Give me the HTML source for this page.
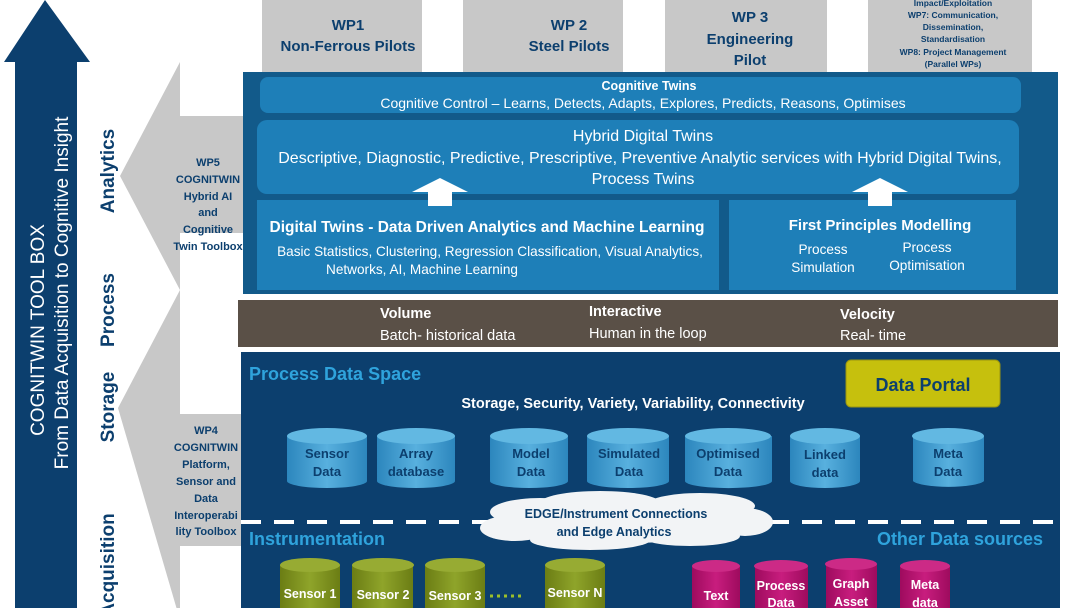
<!DOCTYPE html>
<html><head><meta charset="utf-8"><style>
html,body{margin:0;padding:0;background:#fff;width:1080px;height:608px;overflow:hidden}
svg{display:block;font-family:"Liberation Sans",sans-serif}
</style></head><body>
<svg width="1080" height="608" viewBox="0 0 1080 608" xmlns="http://www.w3.org/2000/svg">
<defs>
<linearGradient id="cb" x1="0" x2="1"><stop offset="0" stop-color="#2c86bd"/><stop offset="0.5" stop-color="#58b0de"/><stop offset="1" stop-color="#2c86bd"/></linearGradient>
<linearGradient id="co" x1="0" x2="1"><stop offset="0" stop-color="#6b7d14"/><stop offset="0.5" stop-color="#8fa42a"/><stop offset="1" stop-color="#6b7d14"/></linearGradient>
<linearGradient id="cm" x1="0" x2="1"><stop offset="0" stop-color="#9e0b5e"/><stop offset="0.5" stop-color="#c81d7e"/><stop offset="1" stop-color="#9e0b5e"/></linearGradient>
</defs>
<polygon points="45,0 90,62 77,62 77,608 15,608 15,62 4,62" fill="#0c3f6e"/>
<text transform="translate(44,330) rotate(-90)" text-anchor="middle" fill="#fff" font-size="19">COGNITWIN TOOL BOX</text>
<text transform="translate(68,293) rotate(-90)" text-anchor="middle" fill="#fff" font-size="19">From Data Acquisition to Cognitive Insight</text>
<g fill="#0c3f6e" font-weight="bold" font-size="19">
<text transform="translate(114,171) rotate(-90)" text-anchor="middle">Analytics</text>
<text transform="translate(114,310) rotate(-90)" text-anchor="middle">Process</text>
<text transform="translate(114,407) rotate(-90)" text-anchor="middle">Storage</text>
<text transform="translate(114,565) rotate(-90)" text-anchor="middle">Acquisition</text>
</g>
<polygon points="180,62 180,116 243,116 243,233 180,233 180,290 120,176" fill="#c8c8c8"/>
<polygon points="180,290 180,414 243,414 243,546 180,546 180,620 118,408" fill="#c8c8c8"/>
<g fill="#0c3f6e" font-weight="bold" font-size="11" text-anchor="middle">
<text x="208" y="166">WP5</text><text x="208" y="183">COGNITWIN</text><text x="208" y="200">Hybrid AI</text><text x="208" y="216">and</text><text x="208" y="233">Cognitive</text><text x="208" y="250">Twin Toolbox</text>
<text x="206" y="434">WP4</text><text x="206" y="451">COGNITWIN</text><text x="206" y="468">Platform,</text><text x="206" y="485">Sensor and</text><text x="206" y="502">Data</text><text x="206" y="519">Interoperabi</text><text x="206" y="535">lity Toolbox</text>
</g>
<g fill="#c8c8c8">
<rect x="262" y="0" width="160" height="72"/><rect x="463" y="0" width="160" height="72"/><rect x="665" y="0" width="162" height="72"/><rect x="868" y="0" width="164" height="72"/>
</g>
<g fill="#0c3f6e" font-weight="bold" text-anchor="middle">
<text x="348" y="30" font-size="15">WP1</text><text x="348" y="51" font-size="15">Non-Ferrous Pilots</text>
<text x="569" y="30" font-size="15">WP 2</text><text x="569" y="51" font-size="15">Steel Pilots</text>
<text x="750" y="22" font-size="15">WP 3</text><text x="750" y="44" font-size="15">Engineering</text><text x="750" y="65" font-size="15">Pilot</text>
<g font-size="8.5"><text x="953" y="6">Impact/Exploitation</text><text x="953" y="18">WP7: Communication,</text><text x="953" y="30">Dissemination,</text><text x="953" y="42">Standardisation</text><text x="953" y="55">WP8: Project Management</text><text x="953" y="67">(Parallel WPs)</text></g>
</g>
<rect x="243" y="72" width="815" height="222" fill="#125a8a"/>
<rect x="260" y="77" width="761" height="36" rx="8" fill="#1e7fb8"/>
<rect x="257" y="120" width="762" height="74" rx="10" fill="#1e7fb8"/>
<rect x="257" y="200" width="462" height="90" fill="#1e7fb8"/>
<rect x="729" y="200" width="287" height="90" fill="#1e7fb8"/>
<polygon points="440,178 468,192 452,192 452,206 428,206 428,192 412,192" fill="#fff"/>
<polygon points="880,178 908,192 892,192 892,206 868,206 868,192 852,192" fill="#fff"/>
<g fill="#fff" text-anchor="middle">
<text x="649" y="90" font-size="12.5" font-weight="bold">Cognitive Twins</text>
<text x="643" y="108" font-size="14">Cognitive Control – Learns, Detects, Adapts, Explores, Predicts, Reasons, Optimises</text>
<text x="643" y="141" font-size="16">Hybrid Digital Twins</text>
<text x="640" y="163" font-size="16">Descriptive, Diagnostic, Predictive, Prescriptive, Preventive Analytic services with Hybrid Digital Twins,</text>
<text x="643" y="184" font-size="16">Process Twins</text>
<text x="487" y="232" font-size="15.5" font-weight="bold">Digital Twins - Data Driven Analytics and Machine Learning</text>
<text x="490" y="256" font-size="13.6">Basic Statistics, Clustering, Regression Classification, Visual Analytics,</text>
<text x="422" y="274" font-size="13.6">Networks, AI,  Machine Learning</text>
<text x="880" y="230" font-size="15" font-weight="bold">First Principles Modelling</text>
<text x="823" y="254" font-size="13.6">Process</text><text x="823" y="272" font-size="13.6">Simulation</text>
<text x="927" y="252" font-size="13.6">Process</text><text x="927" y="270" font-size="13.6">Optimisation</text>
</g>
<rect x="238" y="300" width="820" height="47" fill="#5a5047"/>
<g fill="#fff" font-size="14.5">
<text x="380" y="318" font-weight="bold">Volume</text><text x="380" y="340">Batch- historical data</text>
<text x="589" y="316" font-weight="bold">Interactive</text><text x="589" y="338">Human in the loop</text>
<text x="840" y="319" font-weight="bold">Velocity</text><text x="840" y="340">Real- time</text>
</g>
<rect x="241" y="352" width="819" height="256" fill="#0c3f6e"/>
<line x1="241" y1="522" x2="1060" y2="522" stroke="#fff" stroke-width="4" stroke-dasharray="20,13"/>
<text x="249" y="380" fill="#2fa3dc" font-size="18" font-weight="bold">Process Data Space</text>
<text x="633" y="408" fill="#fff" font-size="14.5" font-weight="bold" text-anchor="middle">Storage, Security,  Variety, Variability, Connectivity</text>
<rect x="846" y="360" width="154" height="47" rx="5" fill="#c6c00d" stroke="#9a9410"/>
<text x="923" y="391" fill="#0c3f6e" font-size="18" font-weight="bold" text-anchor="middle">Data Portal</text>
<g font-size="13" font-weight="bold" fill="#0c3f6e" text-anchor="middle">
<g><path d="M287,436 v45 a40,7 0 0 0 80,0 v-45 z" fill="url(#cb)"/><ellipse cx="327" cy="436" rx="40" ry="8" fill="#62b8e2"/><text x="327" y="458">Sensor</text><text x="327" y="476">Data</text></g>
<g><path d="M377,436 v45 a39,7 0 0 0 78,0 v-45 z" fill="url(#cb)"/><ellipse cx="416" cy="436" rx="39" ry="8" fill="#62b8e2"/><text x="416" y="458">Array</text><text x="416" y="476">database</text></g>
<g><path d="M490,436 v45 a39,7 0 0 0 78,0 v-45 z" fill="url(#cb)"/><ellipse cx="529" cy="436" rx="39" ry="8" fill="#62b8e2"/><text x="531" y="458">Model</text><text x="531" y="476">Data</text></g>
<g><path d="M587,436 v45 a41,7 0 0 0 82,0 v-45 z" fill="url(#cb)"/><ellipse cx="628" cy="436" rx="41" ry="8" fill="#62b8e2"/><text x="629" y="458">Simulated</text><text x="629" y="476">Data</text></g>
<g><path d="M685,436 v45 a43,7 0 0 0 87,0 v-45 z" fill="url(#cb)"/><ellipse cx="728" cy="436" rx="43" ry="8" fill="#62b8e2"/><text x="728" y="458">Optimised</text><text x="728" y="476">Data</text></g>
<g><path d="M790,436 v45 a35,7 0 0 0 70,0 v-45 z" fill="url(#cb)"/><ellipse cx="825" cy="436" rx="35" ry="8" fill="#62b8e2"/><text x="825" y="459">Linked</text><text x="825" y="477">data</text></g>
<g><path d="M913,436 v45 a36,7 0 0 0 71,0 v-45 z" fill="url(#cb)"/><ellipse cx="948" cy="436" rx="36" ry="8" fill="#62b8e2"/><text x="948" y="458">Meta</text><text x="948" y="476">Data</text></g>
</g>
<g fill="#f2f4f6">
<ellipse cx="625" cy="521" rx="120" ry="22"/><ellipse cx="540" cy="512" rx="50" ry="14"/><ellipse cx="600" cy="503" rx="60" ry="12"/><ellipse cx="700" cy="506" rx="55" ry="13"/><ellipse cx="745" cy="522" rx="28" ry="14"/><ellipse cx="515" cy="528" rx="35" ry="13"/><ellipse cx="590" cy="540" rx="60" ry="10"/><ellipse cx="690" cy="536" rx="50" ry="10"/>
</g>
<g fill="#0c3f6e" font-size="12.5" font-weight="bold" text-anchor="middle"><text x="616" y="518">EDGE/Instrument Connections</text><text x="614" y="536">and Edge Analytics</text></g>
<text x="249" y="545" fill="#2fa3dc" font-size="18" font-weight="bold">Instrumentation</text>
<text x="1043" y="545" fill="#2fa3dc" font-size="18" font-weight="bold" text-anchor="end">Other Data sources</text>
<g font-size="12.5" font-weight="bold" fill="#fff" text-anchor="middle">
<g><path d="M280,565 v50 h60 v-50 z" fill="url(#co)"/><ellipse cx="310" cy="565" rx="30" ry="7" fill="#97ab33"/><text x="310" y="598">Sensor 1</text></g>
<g><path d="M352,565 v50 h61 v-50 z" fill="url(#co)"/><ellipse cx="383" cy="565" rx="31" ry="7" fill="#97ab33"/><text x="383" y="599">Sensor 2</text></g>
<g><path d="M425,565 v50 h60 v-50 z" fill="url(#co)"/><ellipse cx="455" cy="565" rx="30" ry="7" fill="#97ab33"/><text x="455" y="600">Sensor 3</text></g>
<g><path d="M545,565 v50 h60 v-50 z" fill="url(#co)"/><ellipse cx="575" cy="565" rx="30" ry="7" fill="#97ab33"/><text x="575" y="597">Sensor N</text></g>
<line x1="490" y1="596" x2="522" y2="596" stroke="#9bbf2a" stroke-width="3" stroke-dasharray="3,4"/>
<g><path d="M692,566 v50 h48 v-50 z" fill="url(#cm)"/><ellipse cx="716" cy="566" rx="24" ry="6" fill="#cc2a86"/><text x="716" y="600">Text</text></g>
<g><path d="M755,566 v50 h53 v-50 z" fill="url(#cm)"/><ellipse cx="781" cy="566" rx="27" ry="6" fill="#cc2a86"/><text x="781" y="590">Process</text><text x="781" y="607">Data</text></g>
<g><path d="M826,564 v50 h51 v-50 z" fill="url(#cm)"/><ellipse cx="851" cy="564" rx="26" ry="6" fill="#cc2a86"/><text x="851" y="588">Graph</text><text x="851" y="606">Asset</text></g>
<g><path d="M900,566 v50 h50 v-50 z" fill="url(#cm)"/><ellipse cx="925" cy="566" rx="25" ry="6" fill="#cc2a86"/><text x="925" y="589">Meta</text><text x="925" y="607">data</text></g>
</g>
</svg>
</body></html>
